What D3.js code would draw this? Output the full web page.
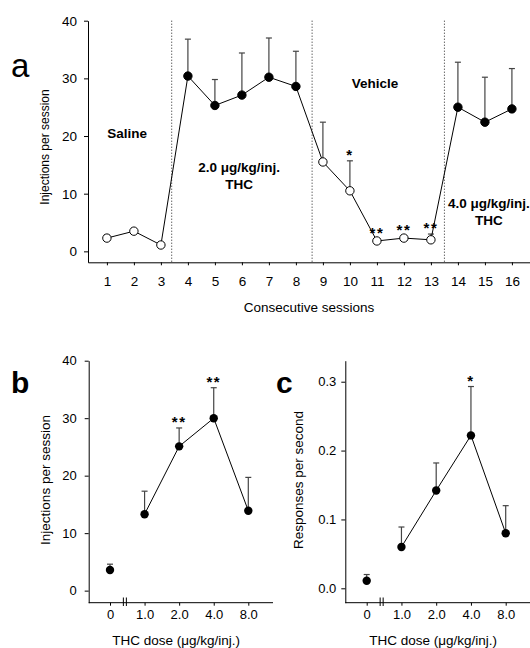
<!DOCTYPE html>
<html>
<head>
<meta charset="utf-8">
<script src="https://cdn.jsdelivr.net/npm/d3@7"></script>
<style>
    body { margin: 0; background: #fff; }
    svg { display: block; font-family: "Liberation Sans", Arial, sans-serif; }
    .axis path, .axis line { stroke: #000; stroke-width: 1; }
    .axis text { font-size: 13px; fill: #000; font-family: "Liberation Sans", Arial, sans-serif; }
    .axis.big text { font-size: 13.5px; }
    .phase { font-size: 13.5px; font-weight: bold; text-anchor: middle; }
    .stars { font-size: 15px; font-weight: bold; text-anchor: middle; letter-spacing: 1.5px; }
    .err { stroke: #444; stroke-width: 1.2; }
</style>
</head>
<body>
<div id="chart"></div>
<script>

// Panel a: injections over consecutive sessions
const sessions = [1, 2, 3, 4, 5, 6, 7, 8, 9, 10, 11, 12, 13, 14, 15, 16];
const sessionMeans = [2.3, 3.5, 1.1, 30.4, 25.3, 27.1, 30.2, 28.6, 15.5, 10.5, 1.8, 2.3, 2.0, 25.0, 22.4, 24.7];
const sessionSem = [0.5, 0.4, 0.0, 6.4, 4.5, 7.3, 6.8, 6.1, 6.9, 5.2, 0.4, 0.4, 1.0, 7.8, 7.8, 7.0];
const sessionDrug = [false, false, false, true, true, true, true, true, false, false, false, false, false, true, true, true];
const sessionStars = ["", "", "", "", "", "", "", "", "", "*", "**", "**", "**", "", "", ""];
const phaseBreaks = [3.4, 8.6, 13.5];

// Panels b and c: dose-response
const doses = ["0", "1.0", "2.0", "4.0", "8.0"];
const injMeans = [3.6, 13.3, 25.1, 30.0, 13.9];
const injSem = [1.0, 4.0, 3.2, 5.3, 5.8];
const injStars = ["", "", "**", "**", ""];
const respMeans = [0.011, 0.060, 0.142, 0.222, 0.080];
const respSem = [0.009, 0.029, 0.040, 0.071, 0.040];
const respStars = ["", "", "", "*", ""];

const svg = d3.select("#chart").append("svg")
    .attr("width", 530)
    .attr("height", 648);

function errorBars(g, data, x, y) {
    let bars = g.append("g").selectAll("g").data(data).join("g");
    bars.append("line")
        .attr("class", "err")
        .attr("x1", d => x(d.key)).attr("x2", d => x(d.key))
        .attr("y1", d => y(d.mean)).attr("y2", d => y(d.mean + d.sem));
    bars.append("line")
        .attr("class", "err")
        .attr("x1", d => x(d.key) - 3).attr("x2", d => x(d.key) + 3)
        .attr("y1", d => y(d.mean + d.sem)).attr("y2", d => y(d.mean + d.sem));
    g.append("g").selectAll("text").data(data.filter(d => d.stars)).join("text")
        .attr("class", "stars")
        .attr("x", d => x(d.key))
        .attr("y", d => y(d.mean + d.sem) - 1)
        .text(d => d.stars);
}

/* ---------- panel a ---------- */
let aData = sessions.map((s, i) => ({
    key: s, mean: sessionMeans[i], sem: sessionSem[i], filled: sessionDrug[i], stars: sessionStars[i]
}));

let xA = d3.scaleLinear().domain([0.3, 16.67]).range([88, 530]);
let yA = d3.scaleLinear().domain([-1.9, 40]).range([262.3, 20.7]);

let gA = svg.append("g");

gA.append("g")
    .attr("class", "axis big")
    .attr("transform", "translate(0,262.3)")
    .call(d3.axisBottom(xA).tickValues(sessions).tickFormat(d3.format("d"))
        .tickSizeInner(3).tickSizeOuter(0).tickPadding(11));

gA.append("g")
    .attr("class", "axis big")
    .attr("transform", "translate(88,0)")
    .call(d3.axisLeft(yA).tickValues([0, 10, 20, 30, 40])
        .tickSizeInner(4).tickSizeOuter(0).tickPadding(7));

gA.selectAll(".phase-break").data(phaseBreaks).join("line")
    .attr("class", "phase-break")
    .attr("x1", d => xA(d)).attr("x2", d => xA(d))
    .attr("y1", yA(40)).attr("y2", yA(-1.9))
    .attr("stroke", "#222")
    .attr("stroke-dasharray", "1,2");

errorBars(gA, aData, xA, yA);

gA.append("path")
    .datum(aData)
    .attr("fill", "none")
    .attr("stroke", "#000")
    .attr("stroke-width", 1)
    .attr("d", d3.line().x(d => xA(d.key)).y(d => yA(d.mean)));

gA.selectAll("circle").data(aData).join("circle")
    .attr("cx", d => xA(d.key))
    .attr("cy", d => yA(d.mean))
    .attr("r", 4.2)
    .attr("fill", d => d.filled ? "#000" : "#fff")
    .attr("stroke", "#000")
    .attr("stroke-width", 1);

// phase labels
let phaseText = [
    {lines: ["Saline"], s: 1.75, v: 19.6},
    {lines: ["2.0 \u03bcg/kg/inj.", "THC"], s: 5.9, v: 13.7},
    {lines: ["Vehicle"], s: 10.93, v: 28.3},
    {lines: ["4.0 \u03bcg/kg/inj.", "THC"], s: 15.15, v: 7.5}
];
phaseText.forEach(p => {
    let t = gA.append("text").attr("class", "phase")
        .attr("x", xA(p.s)).attr("y", yA(p.v));
    p.lines.forEach((l, i) => {
        t.append("tspan").attr("x", xA(p.s)).attr("dy", i ? 17 : 0).text(l);
    });
});

gA.append("text")
    .attr("x", 309).attr("y", 312)
    .attr("text-anchor", "middle")
    .attr("font-size", 13.5)
    .text("Consecutive sessions");

gA.append("text")
    .attr("transform", "translate(49,147) rotate(-90)")
    .attr("text-anchor", "middle")
    .attr("font-size", 12)
    .text("Injections per session");

svg.append("text")
    .attr("x", 11).attr("y", 77)
    .attr("font-size", 33)
    .text("a");

/* ---------- panels b and c ---------- */
function dosePanel(opts) {
    let data = doses.map((d, i) => ({key: d, mean: opts.means[i], sem: opts.sem[i], stars: opts.stars[i]}));

    let x = d3.scalePoint().domain(doses).range(opts.xRange);
    let y = d3.scaleLinear().domain(opts.yDomain).range([602.7, 360.7]);
    let g = svg.append("g");

    g.append("g")
        .attr("class", "axis")
        .attr("transform", "translate(0,602.7)")
        .call(d3.axisBottom(x).tickSizeInner(3).tickSizeOuter(0).tickPadding(4))
        .call(ax => ax.select(".domain").remove());

    g.append("line")
        .attr("x1", opts.axisLeft).attr("x2", opts.axisRight)
        .attr("y1", 602.7).attr("y2", 602.7)
        .attr("stroke", "#000");

    // axis break between 0 and 1.0
    let bx = x(doses[0]) + x.step() * 0.43;
    [-1.5, 1.5].forEach(o => {
        g.append("line")
            .attr("x1", bx + o).attr("x2", bx + o)
            .attr("y1", 597.5).attr("y2", 606)
            .attr("stroke", "#000");
    });

    g.append("g")
        .attr("class", "axis")
        .attr("transform", "translate(" + opts.axisLeft + ",0)")
        .call(d3.axisLeft(y).tickValues(opts.yTicks).tickFormat(opts.yFormat)
            .tickSizeInner(4).tickSizeOuter(0).tickPadding(opts.yPad));

    errorBars(g, data, x, y);

    g.append("path")
        .datum(data.slice(1))
        .attr("fill", "none")
        .attr("stroke", "#000")
        .attr("stroke-width", 1)
        .attr("d", d3.line().x(d => x(d.key)).y(d => y(d.mean)));

    g.selectAll("circle").data(data).join("circle")
        .attr("cx", d => x(d.key))
        .attr("cy", d => y(d.mean))
        .attr("r", 4.2)
        .attr("fill", "#000");

    g.append("text")
        .attr("x", (opts.xRange[0] + opts.xRange[1]) / 2 - 3).attr("y", 644.5)
        .attr("text-anchor", "middle")
        .attr("font-size", 13.5)
        .text("THC dose (\u03bcg/kg/inj.)");

    g.append("text")
        .attr("transform", "translate(" + opts.titleX + ",480) rotate(-90)")
        .attr("text-anchor", "middle")
        .attr("font-size", 13.5)
        .text(opts.title);

    g.append("text")
        .attr("x", opts.letterX).attr("y", 392.5)
        .attr("font-size", 30)
        .attr("font-weight", "bold")
        .text(opts.letter);
}

dosePanel({
    means: injMeans, sem: injSem, stars: injStars,
    xRange: [110, 248.3], axisLeft: 88.7, axisRight: 273,
    yDomain: [-2.1, 40], yTicks: [0, 10, 20, 30, 40], yFormat: d3.format("d"), yPad: 8,
    title: "Injections per session", titleX: 50, letter: "b", letterX: 11
});

dosePanel({
    means: respMeans, sem: respSem, stars: respStars,
    xRange: [366.7, 505.7], axisLeft: 345.3, axisRight: 530,
    yDomain: [-0.0209, 0.3305], yTicks: [0, 0.1, 0.2, 0.3], yFormat: d3.format(".1f"), yPad: 5,
    title: "Responses per second", titleX: 303, letter: "c", letterX: 276
});

</script>
</body>
</html>
